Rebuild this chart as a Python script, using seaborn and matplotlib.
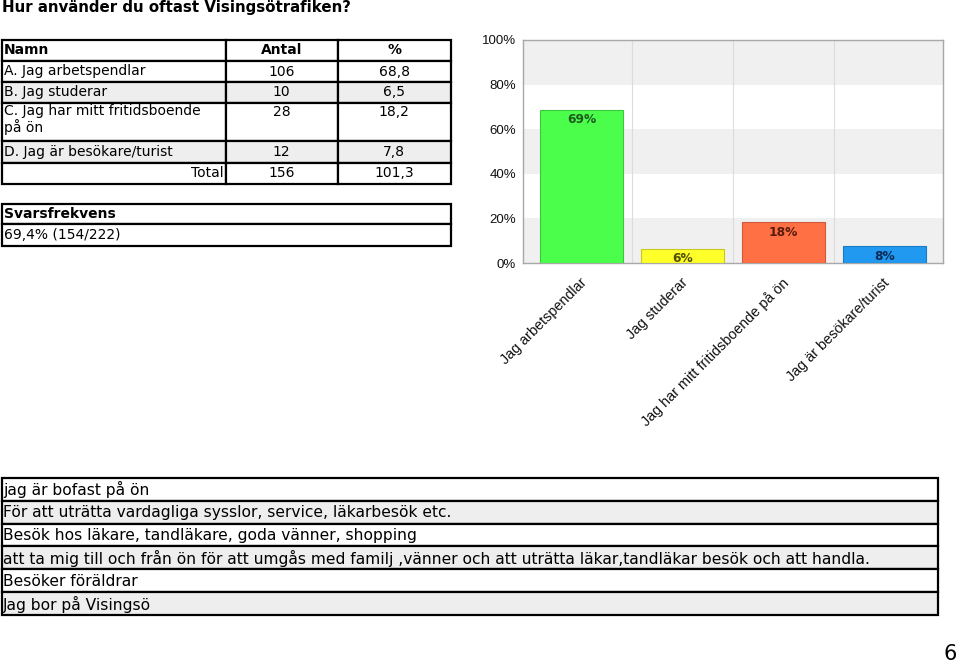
import matplotlib
matplotlib.use("Agg")
import matplotlib.pyplot as plt
import matplotlib.transforms as mtransforms
from matplotlib.patches import Rectangle
import seaborn as sns
import pandas as pd

# ---------------- data ----------------
title = "Hur använder du oftast Visingsötrafiken?"
categories = ["Jag arbetspendlar", "Jag studerar",
              "Jag har mitt fritidsboende på ön", "Jag är besökare/turist"]
table_names = ["A. Jag arbetspendlar", "B. Jag studerar",
               "C. Jag har mitt fritidsboende\npå ön", "D. Jag är besökare/turist"]
counts = [106, 10, 28, 12]
percents = [68.8, 6.5, 18.2, 7.8]
percent_text = ["68,8", "6,5", "18,2", "7,8"]
bar_labels = ["69%", "6%", "18%", "8%"]
total_count = "156"
total_percent = "101,3"
response_rate = "69,4% (154/222)"
yticks = [0, 20, 40, 60, 80, 100]
free_text = [
    "jag är bofast på ön",
    "För att uträtta vardagliga sysslor, service, läkarbesök etc.",
    "Besök hos läkare, tandläkare, goda vänner, shopping",
    "att ta mig till och från ön för att umgås med familj ,vänner och att uträtta läkar,tandläkar besök och att handla.",
    "Besöker föräldrar",
    "Jag bor på Visingsö",
]
page_number = "6"

bar_colors = ["#4cfe4c", "#ffff2a", "#ff7045", "#2199f0"]
edge_colors = ["#3cc83c", "#c8c820", "#d05a38", "#1a7cc4"]
label_colors = ["#1d5a1d", "#505000", "#5a1a0c", "#0c2c58"]

# ---------------- figure ----------------
sns.set_theme(style="white")
plt.rcParams["font.family"] = ["DejaVu Sans"]
plt.rcParams["text.color"] = "black"
fig = plt.figure(figsize=(9.6, 6.64), dpi=100)

# overlay axes in pixel coordinates for text tables
pa = fig.add_axes([0, 0, 1, 1], zorder=0)
pa.set_xlim(0, 960)
pa.set_ylim(664, 0)
pa.axis("off")

pa.text(2, 12, title, fontsize=10.8, fontweight="bold", ha="left",
        va="baseline", color="black")

LW = 1.6
TFS = 10.0

def box(x0, y0, x1, y1, fc="white"):
    pa.add_patch(Rectangle((x0, y0), x1 - x0, y1 - y0, facecolor=fc,
                           edgecolor="black", linewidth=LW))

def mid(a, b):
    return (a + b) / 2

# main table
rows_y = [40, 61, 82, 102.5, 141, 162.5, 183.5]
cx = [2, 225.5, 337.5, 451]
for i in range(6):
    fc = "#eeeeee" if i in (2, 4) else "white"
    for j in range(3):
        box(cx[j], rows_y[i], cx[j + 1], rows_y[i + 1], fc)

pa.text(4, mid(rows_y[0], rows_y[1]), "Namn", fontsize=TFS, fontweight="bold", va="center")
pa.text(mid(cx[1], cx[2]), mid(rows_y[0], rows_y[1]), "Antal", fontsize=TFS,
        fontweight="bold", va="center", ha="center")
pa.text(mid(cx[2], cx[3]), mid(rows_y[0], rows_y[1]), "%", fontsize=TFS,
        fontweight="bold", va="center", ha="center")
for i in range(4):
    y0, y1 = rows_y[i + 1], rows_y[i + 2]
    if "\n" in table_names[i]:
        pa.text(4, y0 + 2, table_names[i], fontsize=TFS, va="top", linespacing=1.05)
        ty, tva = y0 + 2, "top"
    else:
        pa.text(4, mid(y0, y1), table_names[i], fontsize=TFS, va="center")
        ty, tva = mid(y0, y1), "center"
    pa.text(mid(cx[1], cx[2]), ty, str(counts[i]), fontsize=TFS, va=tva, ha="center")
    pa.text(mid(cx[2], cx[3]), ty, percent_text[i], fontsize=TFS, va=tva, ha="center")
pa.text(cx[1] - 2, mid(rows_y[5], rows_y[6]), "Total", fontsize=TFS, va="center", ha="right")
pa.text(mid(cx[1], cx[2]), mid(rows_y[5], rows_y[6]), total_count, fontsize=TFS, va="center", ha="center")
pa.text(mid(cx[2], cx[3]), mid(rows_y[5], rows_y[6]), total_percent, fontsize=TFS, va="center", ha="center")

# response rate box
box(2, 203.5, 451, 224)
box(2, 224, 451, 245.5)
pa.text(4, mid(203.5, 224), "Svarsfrekvens", fontsize=TFS, fontweight="bold", va="center")
pa.text(4, mid(224, 245.5), response_rate, fontsize=TFS, va="center")

# free text table
fy = [477.5, 500.5, 523.5, 546, 569, 592, 615]
for i, t in enumerate(free_text):
    fc = "#eeeeee" if i % 2 == 1 else "white"
    box(2, fy[i], 938, fy[i + 1], fc)
    pa.text(3, mid(fy[i], fy[i + 1]) + 0.5, t, fontsize=11.2, va="center", ha="left")

pa.text(950, 654, page_number, fontsize=15, ha="center", va="center")

# ---------------- bar chart ----------------
ax = fig.add_axes([523 / 960, 1 - 263 / 664, 420 / 960, 223 / 664], zorder=2)
df = pd.DataFrame({"cat": categories, "pct": percents})
sns.barplot(data=df, x="cat", y="pct", hue="cat", palette=bar_colors,
            legend=False, width=0.83, ax=ax, saturation=1, zorder=3)
for p, ec in zip(ax.patches, edge_colors):
    p.set_edgecolor(ec)
    p.set_linewidth(0.8)

ax.set_ylim(0, 100)
ax.set_xlim(-0.58, len(categories) - 0.42)
ax.set_facecolor("white")
for k, (a, b) in enumerate(zip(yticks[:-1], yticks[1:])):
    if k % 2 == 0:
        ax.axhspan(a, b, color="#f0f0f0", zorder=0, lw=0)
for xb in [0.5, 1.5, 2.5]:
    ax.axvline(xb, color="#dcdcdc", lw=0.8, zorder=1)

for i, (v, lab, lc) in enumerate(zip(percents, bar_labels, label_colors)):
    ax.annotate(lab, xy=(i, v), xytext=(0, -7.5), textcoords="offset points",
                ha="center", va="center", fontsize=8.8, fontweight="bold",
                color=lc, zorder=5)

ax.set_yticks(yticks)
ax.set_yticklabels([f"{t}%" for t in yticks], fontfamily="Liberation Sans",
                   fontsize=9.5, color="#111111")
ax.set_xticks(range(len(categories)))
ax.set_xticklabels(categories, rotation=45, ha="right", rotation_mode="anchor",
                   fontfamily="Liberation Sans", fontsize=10.4, color="#111111")
ax.tick_params(axis="y", length=0, pad=5)
ax.tick_params(axis="x", length=0, pad=9)
offset = mtransforms.ScaledTranslation(-2 / 100, 0, fig.dpi_scale_trans)
for lbl in ax.get_xticklabels():
    lbl.set_transform(lbl.get_transform() + offset)
ax.set_xlabel("")
ax.set_ylabel("")
for s in ax.spines.values():
    s.set_visible(True)
    s.set_color("#a8a8a8")
    s.set_linewidth(1.0)

fig.savefig("out.png", dpi=100)
